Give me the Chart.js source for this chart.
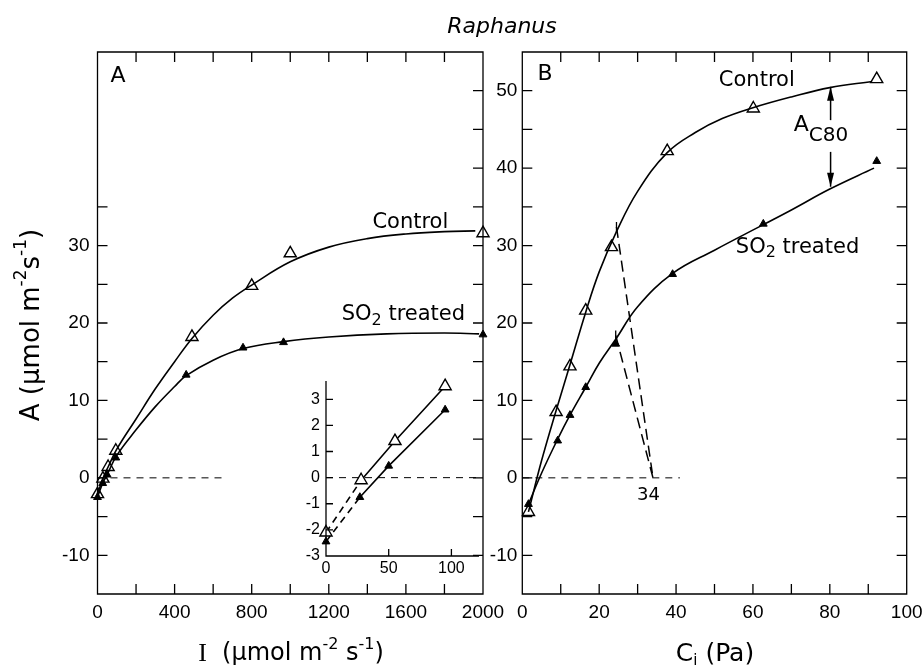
<!DOCTYPE html>
<html><head><meta charset="utf-8">
<script src="https://cdn.jsdelivr.net/npm/chart.js@4.4.0/dist/chart.umd.min.js"></script>
<style>
html,body{margin:0;padding:0;background:#fff;}
#wrap{position:relative;width:922px;height:671px;background:#fff;}
#wrap canvas{position:absolute;left:0;top:0;}
</style></head><body>
<div id="wrap">
<canvas id="cA" width="922" height="671"></canvas>
<canvas id="cI" width="922" height="671"></canvas>
<canvas id="cB" width="922" height="671"></canvas>
</div>
<script>
// ---- Panel A: light response (measured points) ----
const lightControlI = [0, 28, 55, 95, 490, 800, 1000, 2000];
const lightControlA = [-2.1, -0.1, 1.4, 3.5, 18.2, 24.8, 29.0, 31.6];
const lightSO2I = [0, 27, 50, 95, 460, 755, 965, 2000];
const lightSO2A = [-2.5, -0.7, 0.4, 2.6, 13.3, 16.8, 17.5, 18.5];
// ---- Panel A: drawn curves ----
const fitLightControlI = [0, 28, 55, 100, 200, 300, 400, 490, 600, 700, 800, 1000, 1200, 1400, 1600, 1800, 1960];
const fitLightControlA = [-2.1, -0.1, 1.4, 3.7, 7.6, 11.5, 15.0, 18.0, 21.0, 23.2, 24.9, 27.9, 29.8, 30.9, 31.5, 31.8, 31.9];
const fitLightSO2I = [0, 27, 50, 100, 200, 300, 400, 460, 600, 755, 965, 1200, 1500, 1800, 1980];
const fitLightSO2A = [-2.5, -0.7, 0.4, 2.9, 6.2, 9.2, 11.8, 13.2, 15.2, 16.7, 17.6, 18.2, 18.6, 18.7, 18.6];
const lightZeroLine = [0, 645];
// ---- Inset (low light) ----
const insetControlI = [0, 28, 55, 95];
const insetControlA = [-2.1, -0.1, 1.4, 3.5];
const insetSO2I = [0, 27, 50, 95];
const insetSO2A = [-2.45, -0.75, 0.45, 2.6];
const insetZeroLine = [0, 122];
// ---- Panel B: CO2 response (measured points) ----
const ciControl = [1.6, 8.8, 12.4, 16.5, 23.2, 37.7, 60.1, 92.2];
const ciControlA = [-4.4, 8.5, 14.4, 21.6, 29.8, 42.2, 47.7, 51.5];
const ciSO2 = [1.6, 9.2, 12.4, 16.5, 24.3, 39.1, 62.7, 92.2];
const ciSO2A = [-3.4, 4.8, 8.1, 11.7, 17.3, 26.3, 32.8, 40.9];
// ---- Panel B: drawn curves ----
const fitCiControl = [1.6, 5, 8.8, 12.4, 16.5, 20, 24.5, 30, 37.7, 45, 52, 60, 70, 80, 91];
const fitCiControlA = [-4.4, 2.2, 8.7, 14.6, 21.4, 26.6, 31.8, 37.0, 42.0, 44.6, 46.4, 47.8, 49.2, 50.4, 51.2];
const fitCiSO2 = [1.6, 5, 9.2, 12.4, 16.5, 20, 24.3, 30, 39.1, 50, 62.7, 70, 80, 91.5];
const fitCiSO2A = [-3.4, 0.6, 5.0, 8.1, 11.7, 14.8, 17.9, 22.1, 26.4, 29.4, 32.7, 34.6, 37.3, 40.0];
const ciZeroLine = [0, 41];
const extrapControlCi = [24.5, 34];
const extrapControlA = [32.4, 0];
const extrapSO2Ci = [24.3, 34];
const extrapSO2A = [18.4, 0];
const ac80Ci = 80.2;
const ac80Upper = [46.2, 50.5];
const ac80Lower = [42.1, 37.6];
// ---- tick values / labels ----
const labelA_x = [0, 400, 800, 1200, 1600, 2000];
const labelA_y = [-10, 0, 10, 20, 30];
const labelB_x = [0, 20, 40, 60, 80, 100];
const labelB_y = [-10, 0, 10, 20, 30, 40, 50];
const labelI_x = [0, 50, 100];
const labelI_y = [-3, -2, -1, 0, 1, 2, 3];
const tickA_x = [200,400,600,800,1000,1200,1400,1600,1800];
const tickA_yLeft = [-10,-5,0,5,10,15,20,25,30,35];
const tickA_yRight = [-10,-5,0,5,10,15,20,25,30,35,40,45,50];
const tickB_x = [10,20,30,40,50,60,70,80,90];
const tickB_y = [-10,-5,0,5,10,15,20,25,30,35,40,45,50];
const tickI_x = [50,100];
const tickI_y = [-2,-1,0,1,2,3];

const FONT = "'Liberation Sans', Arial, sans-serif";
const TFONT = "'DejaVu Sans', sans-serif";
const pts = (xs, ys) => xs.map((v, i) => ({x: v, y: ys[i]}));

function fixY(w){ return s => { s.width = w; s.paddingTop = 0; s.paddingBottom = 0; s.paddingLeft = 0; s.paddingRight = 0; }; }
function fixX(h){ return s => { s.height = h; s.paddingTop = 0; s.paddingBottom = 0; s.paddingLeft = 0; s.paddingRight = 0; }; }
function scale(min, max, labels, size, pad, fit){
  return {type:'linear', min, max,
    grid:{display:false, drawTicks:false}, border:{display:false},
    afterBuildTicks: s => { s.ticks = labels.map(v => ({value: v})); },
    ticks:{autoSkip:false, maxRotation:0, padding:pad, color:'#000',
      font:{family:FONT, size}, callback: v => String(v)},
    afterFit: fit};
}
function font(p){ return (p.style||'') + ' ' + (p.size) + 'px ' + (p.family||TFONT); }
function rich(ctx, parts, x, y){
  let w = 0;
  parts.forEach(p => { ctx.font = font(p); p.w = ctx.measureText(p.t).width; w += p.w; });
  let cx = x - w/2;
  ctx.textAlign = 'left'; ctx.textBaseline = 'middle'; ctx.fillStyle = '#000';
  parts.forEach(p => { ctx.font = font(p); ctx.fillText(p.t, cx, y + (p.dy||0)); cx += p.w; });
}
function frame(cfg){
  return {id:'frame', afterDraw(chart){
    const {ctx, chartArea:a, scales:{x, y}} = chart;
    ctx.save(); ctx.strokeStyle = '#000'; ctx.lineWidth = 1.3;
    ctx.beginPath();
    if (cfg.box) { ctx.rect(a.left, a.top, a.right - a.left, a.bottom - a.top); }
    else { ctx.moveTo(a.left, a.top); ctx.lineTo(a.left, a.bottom); ctx.lineTo(a.right, a.bottom); }
    const L = cfg.len;
    (cfg.left||[]).forEach(v => { const p = y.getPixelForValue(v); ctx.moveTo(a.left, p); ctx.lineTo(a.left + L, p); });
    (cfg.right||[]).forEach(v => { const p = y.getPixelForValue(v); ctx.moveTo(a.right, p); ctx.lineTo(a.right - L, p); });
    (cfg.bottom||[]).forEach(v => { const p = x.getPixelForValue(v); ctx.moveTo(p, a.bottom); ctx.lineTo(p, a.bottom - L); });
    (cfg.top||[]).forEach(v => { const p = x.getPixelForValue(v); ctx.moveTo(p, a.top); ctx.lineTo(p, a.top + L); });
    ctx.stroke();
    if (cfg.text) cfg.text(ctx, x, y, a);
    ctx.restore();
  }};
}
const common = {animation:false, responsive:false, events:[],
  plugins:{legend:{display:false}, tooltip:{enabled:false}}};
const curveStyle = {showLine:true, tension:0.4, borderColor:'#000', borderWidth:1.6, pointRadius:0, clip:false};
const ctrlMarks = {showLine:false, pointStyle:'triangle', pointRadius:7, pointBackgroundColor:'#fff',
  pointBorderColor:'#000', pointBorderWidth:1.4, clip:false};
const so2Marks = {showLine:false, pointStyle:'triangle', pointRadius:4.5, pointBackgroundColor:'#000',
  pointBorderColor:'#000', pointBorderWidth:1, clip:false};
const zeroStyle = {showLine:true, borderColor:'#000', borderWidth:1, borderDash:[7,6], pointRadius:0, clip:false};

// ---------- Panel A ----------
new Chart(document.getElementById('cA'), {
  type:'scatter',
  data:{datasets:[
    Object.assign({data: pts(lightZeroLine, [0, 0])}, zeroStyle),
    Object.assign({data: pts(fitLightControlI, fitLightControlA)}, curveStyle),
    Object.assign({data: pts(fitLightSO2I, fitLightSO2A)}, curveStyle),
    Object.assign({data: pts(lightSO2I, lightSO2A)}, so2Marks),
    Object.assign({data: pts(lightControlI, lightControlA)}, ctrlMarks)
  ]},
  options:Object.assign({}, common, {
    layout:{padding:{left:37.5, right:439, top:52, bottom:37}},
    scales:{
      x: scale(0, 2000, labelA_x, 19, 7, fixX(40)),
      y: scale(-15, 55, labelA_y, 19, 8, fixY(60))
    }
  }),
  plugins:[frame({box:true, len:10, left:tickA_yLeft, right:tickA_yRight, bottom:tickA_x, top:tickA_x,
    text(ctx, x, y){
      rich(ctx, [{t:'A', size:22}], x.getPixelForValue(106), y.getPixelForValue(51.8));
      rich(ctx, [{t:'Control', size:21}], x.getPixelForValue(1623), y.getPixelForValue(33.0));
      rich(ctx, [{t:'SO', size:21}, {t:'2', size:16, dy:6}, {t:' treated', size:21}], x.getPixelForValue(1587), y.getPixelForValue(21.1));
      rich(ctx, [{t:'Raphanus', size:22, style:'italic'}], 502, 27);
      rich(ctx, [{t:'I', size:26, family:"'Liberation Serif', serif"}, {t:'  (', size:24}, {t:'μ', size:24},
        {t:'mol m', size:24}, {t:'-2', size:16, dy:-9}, {t:' s', size:24}, {t:'-1', size:16, dy:-9}, {t:')', size:24}], 291, 654);
      ctx.save(); ctx.translate(32, 325); ctx.rotate(-Math.PI/2);
      rich(ctx, [{t:'A (', size:26}, {t:'μ', size:26}, {t:'mol m', size:26}, {t:'-2', size:17, dy:-10},
        {t:'s', size:26}, {t:'-1', size:17, dy:-10}, {t:')', size:26}], 0, 0);
      ctx.restore();
    }})]
});

// ---------- Inset ----------
const segDash = ctx => ctx.p0.parsed.x < 10 ? [7,5] : undefined;
const insetLine = {showLine:true, tension:0, borderColor:'#000', borderWidth:1.6, clip:false, segment:{borderDash:segDash}};
new Chart(document.getElementById('cI'), {
  type:'scatter',
  data:{datasets:[
    Object.assign({data: pts(insetZeroLine, [0, 0])}, zeroStyle),
    Object.assign({data: pts(insetSO2I, insetSO2A)}, so2Marks, insetLine),
    Object.assign({data: pts(insetControlI, insetControlA)}, ctrlMarks, insetLine)
  ]},
  options:Object.assign({}, common, {
    layout:{padding:{left:286, right:443, top:381, bottom:85}},
    scales:{
      x: scale(0, 122, labelI_x, 16, 3, fixX(30)),
      y: scale(-3, 3.7, labelI_y, 16, 6, fixY(40))
    }
  }),
  plugins:[frame({box:false, len:7, left:tickI_y, bottom:tickI_x})]
});

// ---------- Panel B ----------
const extrapStyle = {showLine:true, borderColor:'#000', borderWidth:1.5, borderDash:[11,6], clip:false,
  pointStyle:'line', rotation:90, pointRadius:[5,0], pointBorderColor:'#000', pointBorderWidth:1.3};
new Chart(document.getElementById('cB'), {
  type:'scatter',
  data:{datasets:[
    Object.assign({data: pts(ciZeroLine, [0, 0])}, zeroStyle),
    Object.assign({data: pts(extrapControlCi, extrapControlA)}, extrapStyle),
    Object.assign({data: pts(extrapSO2Ci, extrapSO2A)}, extrapStyle),
    Object.assign({data: pts(fitCiControl, fitCiControlA)}, curveStyle),
    Object.assign({data: pts(fitCiSO2, fitCiSO2A)}, curveStyle),
    Object.assign({data: pts(ciSO2, ciSO2A)}, so2Marks),
    Object.assign({data: pts(ciControl, ciControlA)}, ctrlMarks)
  ]},
  options:Object.assign({}, common, {
    layout:{padding:{left:462.3, right:15.3, top:52, bottom:37}},
    scales:{
      x: scale(0, 100, labelB_x, 19, 7, fixX(40)),
      y: scale(-15, 55, labelB_y, 19, 5, fixY(60))
    }
  }),
  plugins:[frame({box:true, len:10, left:tickB_y, right:tickB_y, bottom:tickB_x, top:tickB_x,
    text(ctx, x, y){
      rich(ctx, [{t:'B', size:22}], x.getPixelForValue(5.9), y.getPixelForValue(52.1));
      rich(ctx, [{t:'Control', size:21}], x.getPixelForValue(61.0), y.getPixelForValue(51.3));
      rich(ctx, [{t:'SO', size:21}, {t:'2', size:16, dy:6}, {t:' treated', size:21}], x.getPixelForValue(71.6), y.getPixelForValue(29.8));
      rich(ctx, [{t:'34', size:18}], x.getPixelForValue(32.8), y.getPixelForValue(-2.3));
      rich(ctx, [{t:'A', size:22}, {t:'C80', size:20, dy:11}], x.getPixelForValue(77.7), y.getPixelForValue(45.6));
      rich(ctx, [{t:'C', size:25}, {t:'i', size:15, dy:7}, {t:' (Pa)', size:25}], 715, 654);
      const ax = x.getPixelForValue(ac80Ci);
      function arrow(y0, y1){
        const p0 = y.getPixelForValue(y0), p1 = y.getPixelForValue(y1);
        const d = p1 < p0 ? -1 : 1;
        ctx.beginPath(); ctx.moveTo(ax, p0); ctx.lineTo(ax, p1); ctx.lineWidth = 1.5; ctx.stroke();
        ctx.beginPath(); ctx.moveTo(ax, p1); ctx.lineTo(ax - 3.5, p1 - d*14); ctx.lineTo(ax + 3.5, p1 - d*14); ctx.closePath(); ctx.fill();
      }
      ctx.fillStyle = '#000';
      arrow(ac80Upper[0], ac80Upper[1]);
      arrow(ac80Lower[0], ac80Lower[1]);
    }})]
});
</script>
</body></html>
